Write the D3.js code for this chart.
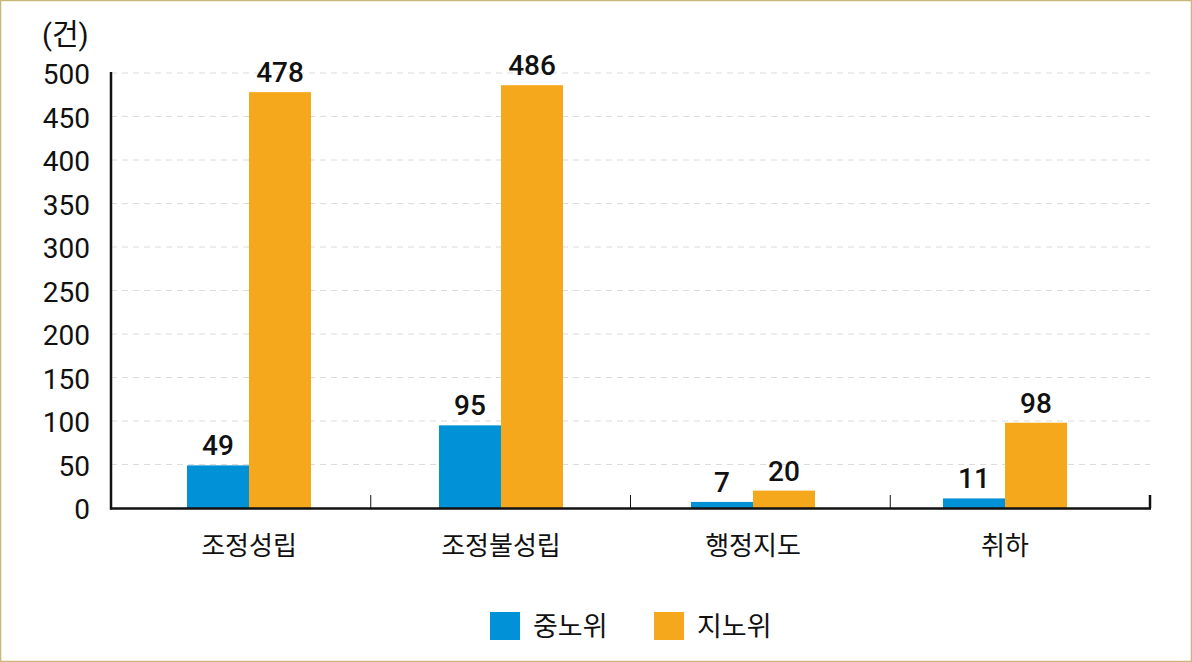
<!DOCTYPE html>
<html>
<head>
<meta charset="utf-8">
<script src="https://cdn.jsdelivr.net/npm/d3@7"></script>
<style>
  body { margin: 0; background: #fff; }
  text { font-family: Roboto, "Noto Sans CJK KR", sans-serif; fill: #111; }
</style>
</head>
<body>
<div id="chart"></div>
<script>
var svgWidth = 1192;
var svgHeight = 662;

// data
var categories = ["조정성립", "조정불성립", "행정지도", "취하"];
var seriesNames = ["중노위", "지노위"];
var jungnowi = [49, 95, 7, 11];
var jinowi = [478, 486, 20, 98];
var yTicks = [0, 50, 100, 150, 200, 250, 300, 350, 400, 450, 500];
var colors = ["#0091d6", "#f5a81b"];

var svg = d3.select("#chart")
    .append("svg")
    .attr("width", svgWidth)
    .attr("height", svgHeight);

// outer frame
svg.append("rect")
    .attr("x", 0.5).attr("y", 0.5)
    .attr("width", svgWidth - 1).attr("height", svgHeight - 1)
    .attr("fill", "none")
    .attr("stroke", "#c8b778")
    .attr("stroke-width", 1.5);

var y = d3.scaleLinear()
    .domain([0, 500])
    .range([508, 73]);

// axis frame for category ticks
var xFrame = d3.scaleBand()
    .domain(categories)
    .range([111, 1150]);

// bar placement
var x = d3.scaleBand()
    .domain(categories)
    .range([123, 1131]);

var xSub = d3.scaleBand()
    .domain(seriesNames)
    .range([0, 124]);

// grid lines
svg.append("g")
    .selectAll("line")
    .data(yTicks.filter(d => d > 0))
    .enter()
    .append("line")
    .attr("x1", 111)
    .attr("x2", 1150)
    .attr("y1", d => y(d))
    .attr("y2", d => y(d))
    .attr("stroke", "#dcdcdc")
    .attr("stroke-width", 1)
    .attr("stroke-dasharray", "6,5");

// y tick labels
svg.append("g")
    .selectAll("text")
    .data(yTicks)
    .enter()
    .append("text")
    .attr("x", 90)
    .attr("y", d => y(d) + 11)
    .attr("text-anchor", "end")
    .attr("font-size", 28)
    .text(d => d);

// unit label
svg.append("text")
    .attr("x", 42)
    .attr("y", 45)
    .attr("font-size", 29)
    .text("(건)");

// bars
var series = [jungnowi, jinowi];
series.forEach(function(vals, si) {
    svg.append("g")
        .selectAll("rect")
        .data(vals)
        .enter()
        .append("rect")
        .attr("x", (d, i) => x(categories[i]) + x.bandwidth() / 2 - 62 + xSub(seriesNames[si]))
        .attr("y", d => y(d))
        .attr("width", xSub.bandwidth())
        .attr("height", d => y(0) - y(d))
        .attr("fill", colors[si]);

    svg.append("g")
        .selectAll("text")
        .data(vals)
        .enter()
        .append("text")
        .attr("x", (d, i) => x(categories[i]) + x.bandwidth() / 2 - 62 + xSub(seriesNames[si]) + xSub.bandwidth() / 2)
        .attr("y", d => y(d) - 10)
        .attr("text-anchor", "middle")
        .attr("font-size", 28)
        .attr("font-weight", 500)
        .text(d => d);
});

// axes lines
svg.append("line")
    .attr("x1", 111).attr("x2", 111)
    .attr("y1", 72).attr("y2", 509.5)
    .attr("stroke", "#111").attr("stroke-width", 2.5);
svg.append("line")
    .attr("x1", 110).attr("x2", 1151)
    .attr("y1", 508.5).attr("y2", 508.5)
    .attr("stroke", "#111").attr("stroke-width", 2.5);

// category boundary ticks
svg.append("g")
    .selectAll("line")
    .data(categories.slice(1).concat(["end"]))
    .enter()
    .append("line")
    .attr("x1", d => d === "end" ? 1150 : xFrame(d))
    .attr("x2", d => d === "end" ? 1150 : xFrame(d))
    .attr("y1", 495)
    .attr("y2", 508)
    .attr("stroke", "#111")
    .attr("stroke-width", d => d === "end" ? 2.5 : 1);

// category labels
svg.append("g")
    .selectAll("text")
    .data(categories)
    .enter()
    .append("text")
    .attr("x", d => x(d) + x.bandwidth() / 2)
    .attr("y", 555)
    .attr("text-anchor", "middle")
    .attr("font-size", 26)
    .text(d => d);

// legend
var legendX = [490, 654];
var legend = svg.append("g")
    .selectAll("g")
    .data(seriesNames)
    .enter()
    .append("g")
    .attr("transform", (d, i) => `translate(${legendX[i]}, 612)`);

legend.append("rect")
    .attr("width", 30)
    .attr("height", 28)
    .attr("fill", (d, i) => colors[i]);

legend.append("text")
    .attr("x", 43)
    .attr("y", 24)
    .attr("font-size", 27)
    .text(d => d);
</script>
</body>
</html>
